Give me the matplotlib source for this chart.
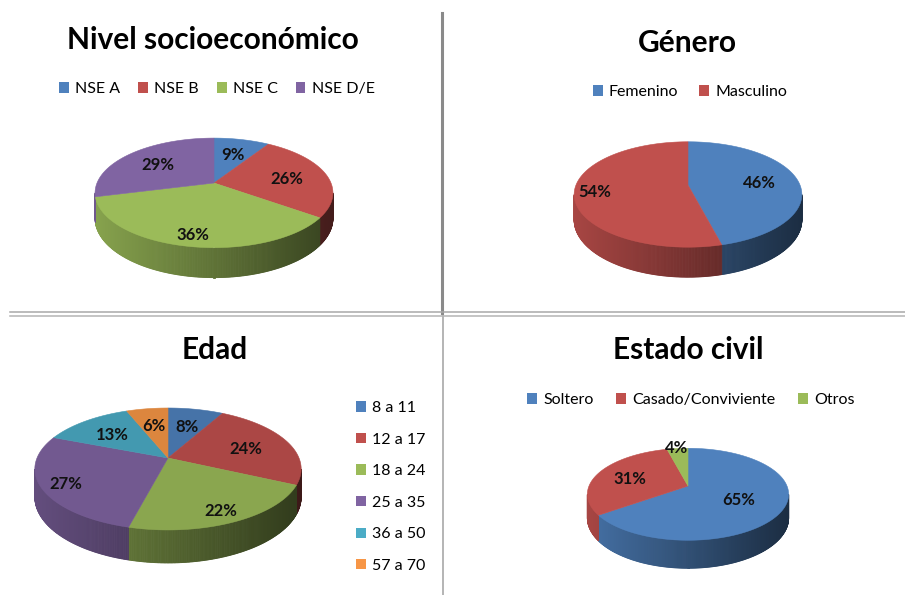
import numpy as np
import matplotlib
matplotlib.use('Agg')
import matplotlib.pyplot as plt
import matplotlib.colors as mcolors
from matplotlib.patches import Polygon, Patch

plt.rcParams['font.family'] = ['Lato', 'DejaVu Sans']

# datos de cada grafico
nse_titulo = 'Nivel socioeconómico'
nse_labels = ['NSE A', 'NSE B', 'NSE C', 'NSE D/E']
nse_values = [9, 26, 36, 29]

genero_titulo = 'Género'
genero_labels = ['Femenino', 'Masculino']
genero_values = [46, 54]

edad_titulo = 'Edad'
edad_labels = ['8 a 11', '12 a 17', '18 a 24', '25 a 35', '36 a 50', '57 a 70']
edad_values = [8, 24, 22, 27, 13, 6]

civil_titulo = 'Estado civil'
civil_labels = ['Soltero', 'Casado/Conviviente', 'Otros']
civil_values = [65, 31, 4]

colores = ['#4F81BD', '#C0504D', '#9BBB59', '#8064A2', '#4BACC6', '#F79646']

K = 0.18  # perspectiva


def proyectar(cx, vy, A, B, r, th, dz=0.0):
    u = r * np.sin(th)
    v = r * np.cos(th)
    den = 1 + K * v
    return cx + A * u / den, vy - B * v / den + dz / den


def pastel3d(ax, valores, cx, vy, A, B, prof, brillo=1.0):
    total = float(sum(valores))
    lim = np.cumsum([0] + list(valores)) / total * 2 * np.pi
    dz = prof * (1 - K)
    th_vis = np.arccos(-K)
    izq = cx - A / np.sqrt(1 - K**2)
    ancho = 2 * A / np.sqrt(1 - K**2)
    cols = [np.clip(np.array(mcolors.to_rgb(c)) * brillo, 0, 1) for c in colores]

    # costado con degradado
    for i in range(len(valores)):
        a0 = max(lim[i], th_vis)
        a1 = min(lim[i + 1], 2 * np.pi - th_vis)
        if a1 <= a0:
            continue
        ths = np.linspace(a0, a1, max(2, int(np.degrees(a1 - a0) * 2)))
        for t0, t1 in zip(ths[:-1], ths[1:]):
            x0, y0 = proyectar(cx, vy, A, B, 1, t0)
            x1, y1 = proyectar(cx, vy, A, B, 1, t1)
            _, y0b = proyectar(cx, vy, A, B, 1, t0, dz)
            _, y1b = proyectar(cx, vy, A, B, 1, t1, dz)
            f = 0.87 - 0.52 * ((x0 + x1) / 2 - izq) / ancho
            c = np.clip(cols[i] * f, 0, 1)
            ax.add_patch(Polygon([[x0, y0], [x1, y1], [x1, y1b], [x0, y0b]],
                                 closed=True, fc=c, ec=c, lw=0.6))

    # cara superior
    for i in range(len(valores)):
        ths = np.linspace(lim[i], lim[i + 1], 120)
        xs, ys = proyectar(cx, vy, A, B, 1, ths)
        pts = [(cx, vy)] + list(zip(xs, ys))
        ax.add_patch(Polygon(pts, closed=True, fc=cols[i], ec=cols[i], lw=0.4))

    # etiquetas
    for i, val in enumerate(valores):
        mid = (lim[i] + lim[i + 1]) / 2
        p = val / total
        if p < 0.05:
            r = 1.08
        elif p > 0.6:
            r = 0.55
        elif np.cos(mid) < 0:
            r = 0.82
        else:
            r = 0.65
        x, y = proyectar(cx, vy, A, B, r, mid)
        ax.text(x, y + 2, '{}%'.format(val), ha='center', va='center',
                fontsize=12, fontweight='bold', color='#111111')


def leyenda(fig, ax, labels, x, y, ncol, **kw):
    handles = [Patch(fc=colores[i], ec='none') for i in range(len(labels))]
    fig.legend(handles, labels, loc=kw.pop('loc', 'center'), bbox_to_anchor=(x, y),
               bbox_transform=ax.transData, ncol=ncol, frameon=False, fontsize=11.5,
               handlelength=0.62, handleheight=0.62, handletextpad=0.4,
               borderaxespad=0, borderpad=0, **kw)


fig = plt.figure(figsize=(9.05, 5.95), dpi=100)
ax = fig.add_axes([0, 0, 1, 1])
ax.set_xlim(0, 905)
ax.set_ylim(595, 0)
ax.axis('off')

# separadores
ax.plot([442, 442], [13, 313], color='#8a8a8a', lw=2.2)
ax.plot([442.5, 442.5], [316, 595], color='#a8a8a8', lw=1.2)
ax.plot([10, 905], [312.3, 312.3], color='#a8a8a8', lw=1.1)
ax.plot([10, 905], [315.7, 315.7], color='#b4b4b4', lw=1.1)

# Nivel socioeconomico
ax.text(213, 40, nse_titulo, fontsize=21.5, fontweight='bold', ha='center', va='center')
leyenda(fig, ax, nse_labels, 217, 89, 4, columnspacing=1.1)
pastel3d(ax, nse_values, 214, 183, 117, 53, 30)

# Genero
ax.text(687, 43, genero_titulo, fontsize=21.5, fontweight='bold', ha='center', va='center')
leyenda(fig, ax, genero_labels, 690, 92, 2, columnspacing=1.3)
pastel3d(ax, genero_values, 688, 185, 112, 51, 30)

# Edad
ax.text(215, 350, edad_titulo, fontsize=21.5, fontweight='bold', ha='center', va='center')
leyenda(fig, ax, edad_labels, 356, 487, 1, loc='center left', labelspacing=1.1)
pastel3d(ax, edad_values, 168, 458, 131, 59, 33, brillo=0.89)

# Estado civil
ax.text(688, 350, civil_titulo, fontsize=21.5, fontweight='bold', ha='center', va='center')
leyenda(fig, ax, civil_labels, 691, 400, 3, columnspacing=1.4)
pastel3d(ax, civil_values, 688, 486, 99, 44.5, 28)

fig.savefig('out.png', dpi=100, facecolor='white')
